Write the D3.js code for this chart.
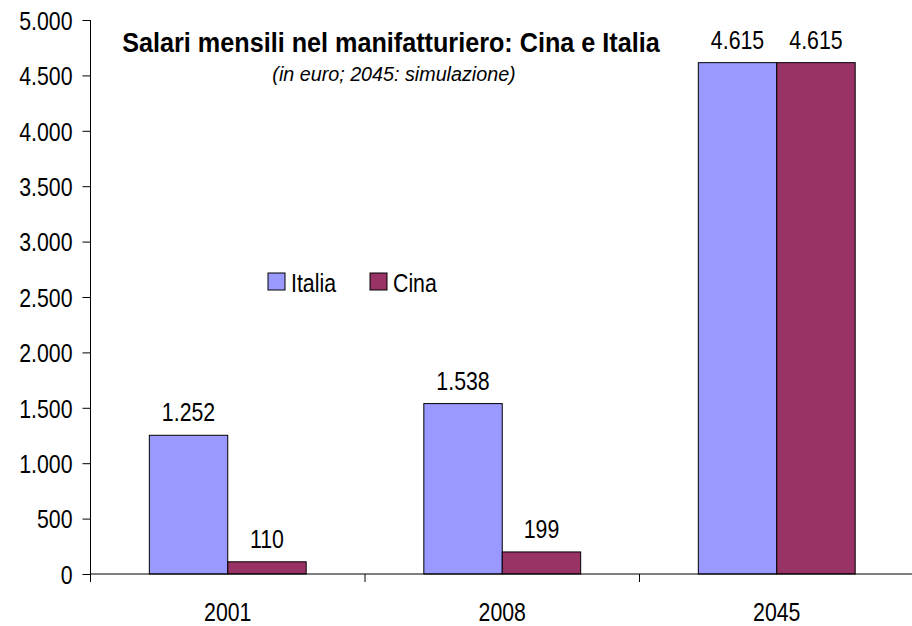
<!DOCTYPE html>
<html>
<head>
<meta charset="utf-8">
<script src="https://cdn.jsdelivr.net/npm/d3@7"></script>
<style>
body{margin:0;background:#fff;}
svg text{font-family:"Liberation Sans Narrow","Arial Narrow","Liberation Sans",Arial,sans-serif;fill:#000;}
</style>
</head>
<body>
<svg id="chart" width="912" height="626"></svg>
<script>
// data
var years = ["2001", "2008", "2045"];
var seriesNames = ["Italia", "Cina"];
var italia = [1252, 1538, 4615];
var cina = [110, 199, 4615];
var yTicks = [0, 500, 1000, 1500, 2000, 2500, 3000, 3500, 4000, 4500, 5000];
var colours = ["#9999FF", "#993366"];

var svg = d3.select("#chart");
var plotLeft = 90.5, plotRight = 914, plotTop = 20, plotBottom = 574;
var squeeze = 0.82; // fake a narrow face

var fmt = function(v){ return d3.format(",")(v).replace(/,/g, "."); };

// squash a text horizontally, keeping its anchor point where it was
function narrow(sel, k){
	k = k || squeeze;
	sel.each(function(){
		var t = d3.select(this);
		var xv = +t.attr("x") || 0;
		t.attr("x", xv / k).attr("transform", "scale(" + k + ",1)");
	});
}

var x = d3.scaleBand().domain(years).range([plotLeft, plotRight]).paddingInner(0).paddingOuter(0);
var xInner = d3.scaleBand().domain(seriesNames).range([0, x.bandwidth()]).paddingInner(0).paddingOuter(0.75);
var y = d3.scaleLinear().domain([0, 5000]).range([plotBottom, plotTop]);

// y axis
var yAxis = svg.append("g")
	.attr("transform", "translate(" + plotLeft + ",0)")
	.call(d3.axisLeft(y).tickValues(yTicks).tickSize(8).tickPadding(10).tickFormat(fmt));
yAxis.select(".domain").attr("stroke", "#000").attr("d", "M0," + plotTop + "V" + plotBottom);
yAxis.selectAll(".tick line").attr("stroke", "#000");
yAxis.selectAll(".tick text").attr("font-size", 26).attr("dy", "0.36em").call(narrow);

// bars
var rows = years.map(function(yr, i){ return {year: yr, vals: [italia[i], cina[i]]}; });
var groups = svg.selectAll("g.grp")
	.data(rows)
	.enter().append("g")
	.attr("class", "grp")
	.attr("transform", function(d){ return "translate(" + x(d.year) + ",0)"; });

groups.selectAll("rect")
	.data(function(d){ return d.vals.map(function(v, k){ return {name: seriesNames[k], v: v, k: k}; }); })
	.enter().append("rect")
	.attr("x", function(d){ return xInner(d.name); })
	.attr("y", function(d){ return y(d.v); })
	.attr("width", xInner.bandwidth())
	.attr("height", function(d){ return plotBottom - y(d.v); })
	.attr("fill", function(d){ return colours[d.k]; })
	.attr("stroke", "#000")
	.attr("stroke-width", 1);

groups.selectAll("text.val")
	.data(function(d){ return d.vals.map(function(v, k){ return {name: seriesNames[k], v: v}; }); })
	.enter().append("text")
	.attr("class", "val")
	.attr("x", function(d){ return xInner(d.name) + xInner.bandwidth() / 2; })
	.attr("y", function(d){ return y(d.v) - 14; })
	.attr("text-anchor", "middle")
	.attr("font-size", 26)
	.text(function(d){ return fmt(d.v); })
	.call(narrow);

// x axis
var xAxis = svg.append("g")
	.attr("transform", "translate(0," + plotBottom + ")")
	.call(d3.axisBottom(x).tickSize(0).tickPadding(29));
xAxis.select(".domain").attr("stroke", "#000").attr("d", "M" + plotLeft + ",0H" + plotRight);
xAxis.selectAll(".tick text").attr("font-size", 26).call(narrow);
xAxis.selectAll("line.sep")
	.data(years.slice(1))
	.enter().append("line")
	.attr("class", "sep")
	.attr("x1", function(d){ return x(d); })
	.attr("x2", function(d){ return x(d); })
	.attr("y1", 0).attr("y2", 8)
	.attr("stroke", "#000");
xAxis.append("line")
	.attr("x1", plotLeft).attr("x2", plotLeft).attr("y1", 0).attr("y2", 8)
	.attr("stroke", "#000");

// title
svg.append("text")
	.attr("x", 391).attr("y", 52)
	.attr("text-anchor", "middle")
	.attr("font-size", 28).attr("font-weight", "bold")
	.text("Salari mensili nel manifatturiero: Cina e Italia")
	.call(narrow, 0.9);
svg.append("text")
	.attr("x", 394).attr("y", 81)
	.attr("text-anchor", "middle")
	.attr("font-size", 21).attr("font-style", "italic")
	.text("(in euro; 2045: simulazione)")
	.call(narrow, 0.94);

// legend
var legend = svg.append("g").attr("transform", "translate(268,273)");
var legX = [0, 102];
seriesNames.forEach(function(n, i){
	legend.append("rect")
		.attr("x", legX[i]).attr("y", 0)
		.attr("width", 17).attr("height", 17)
		.attr("fill", colours[i]).attr("stroke", "#000");
	legend.append("text")
		.attr("x", legX[i] + 23).attr("y", 19)
		.attr("font-size", 26)
		.text(n)
		.call(narrow);
});
</script>
</body>
</html>
